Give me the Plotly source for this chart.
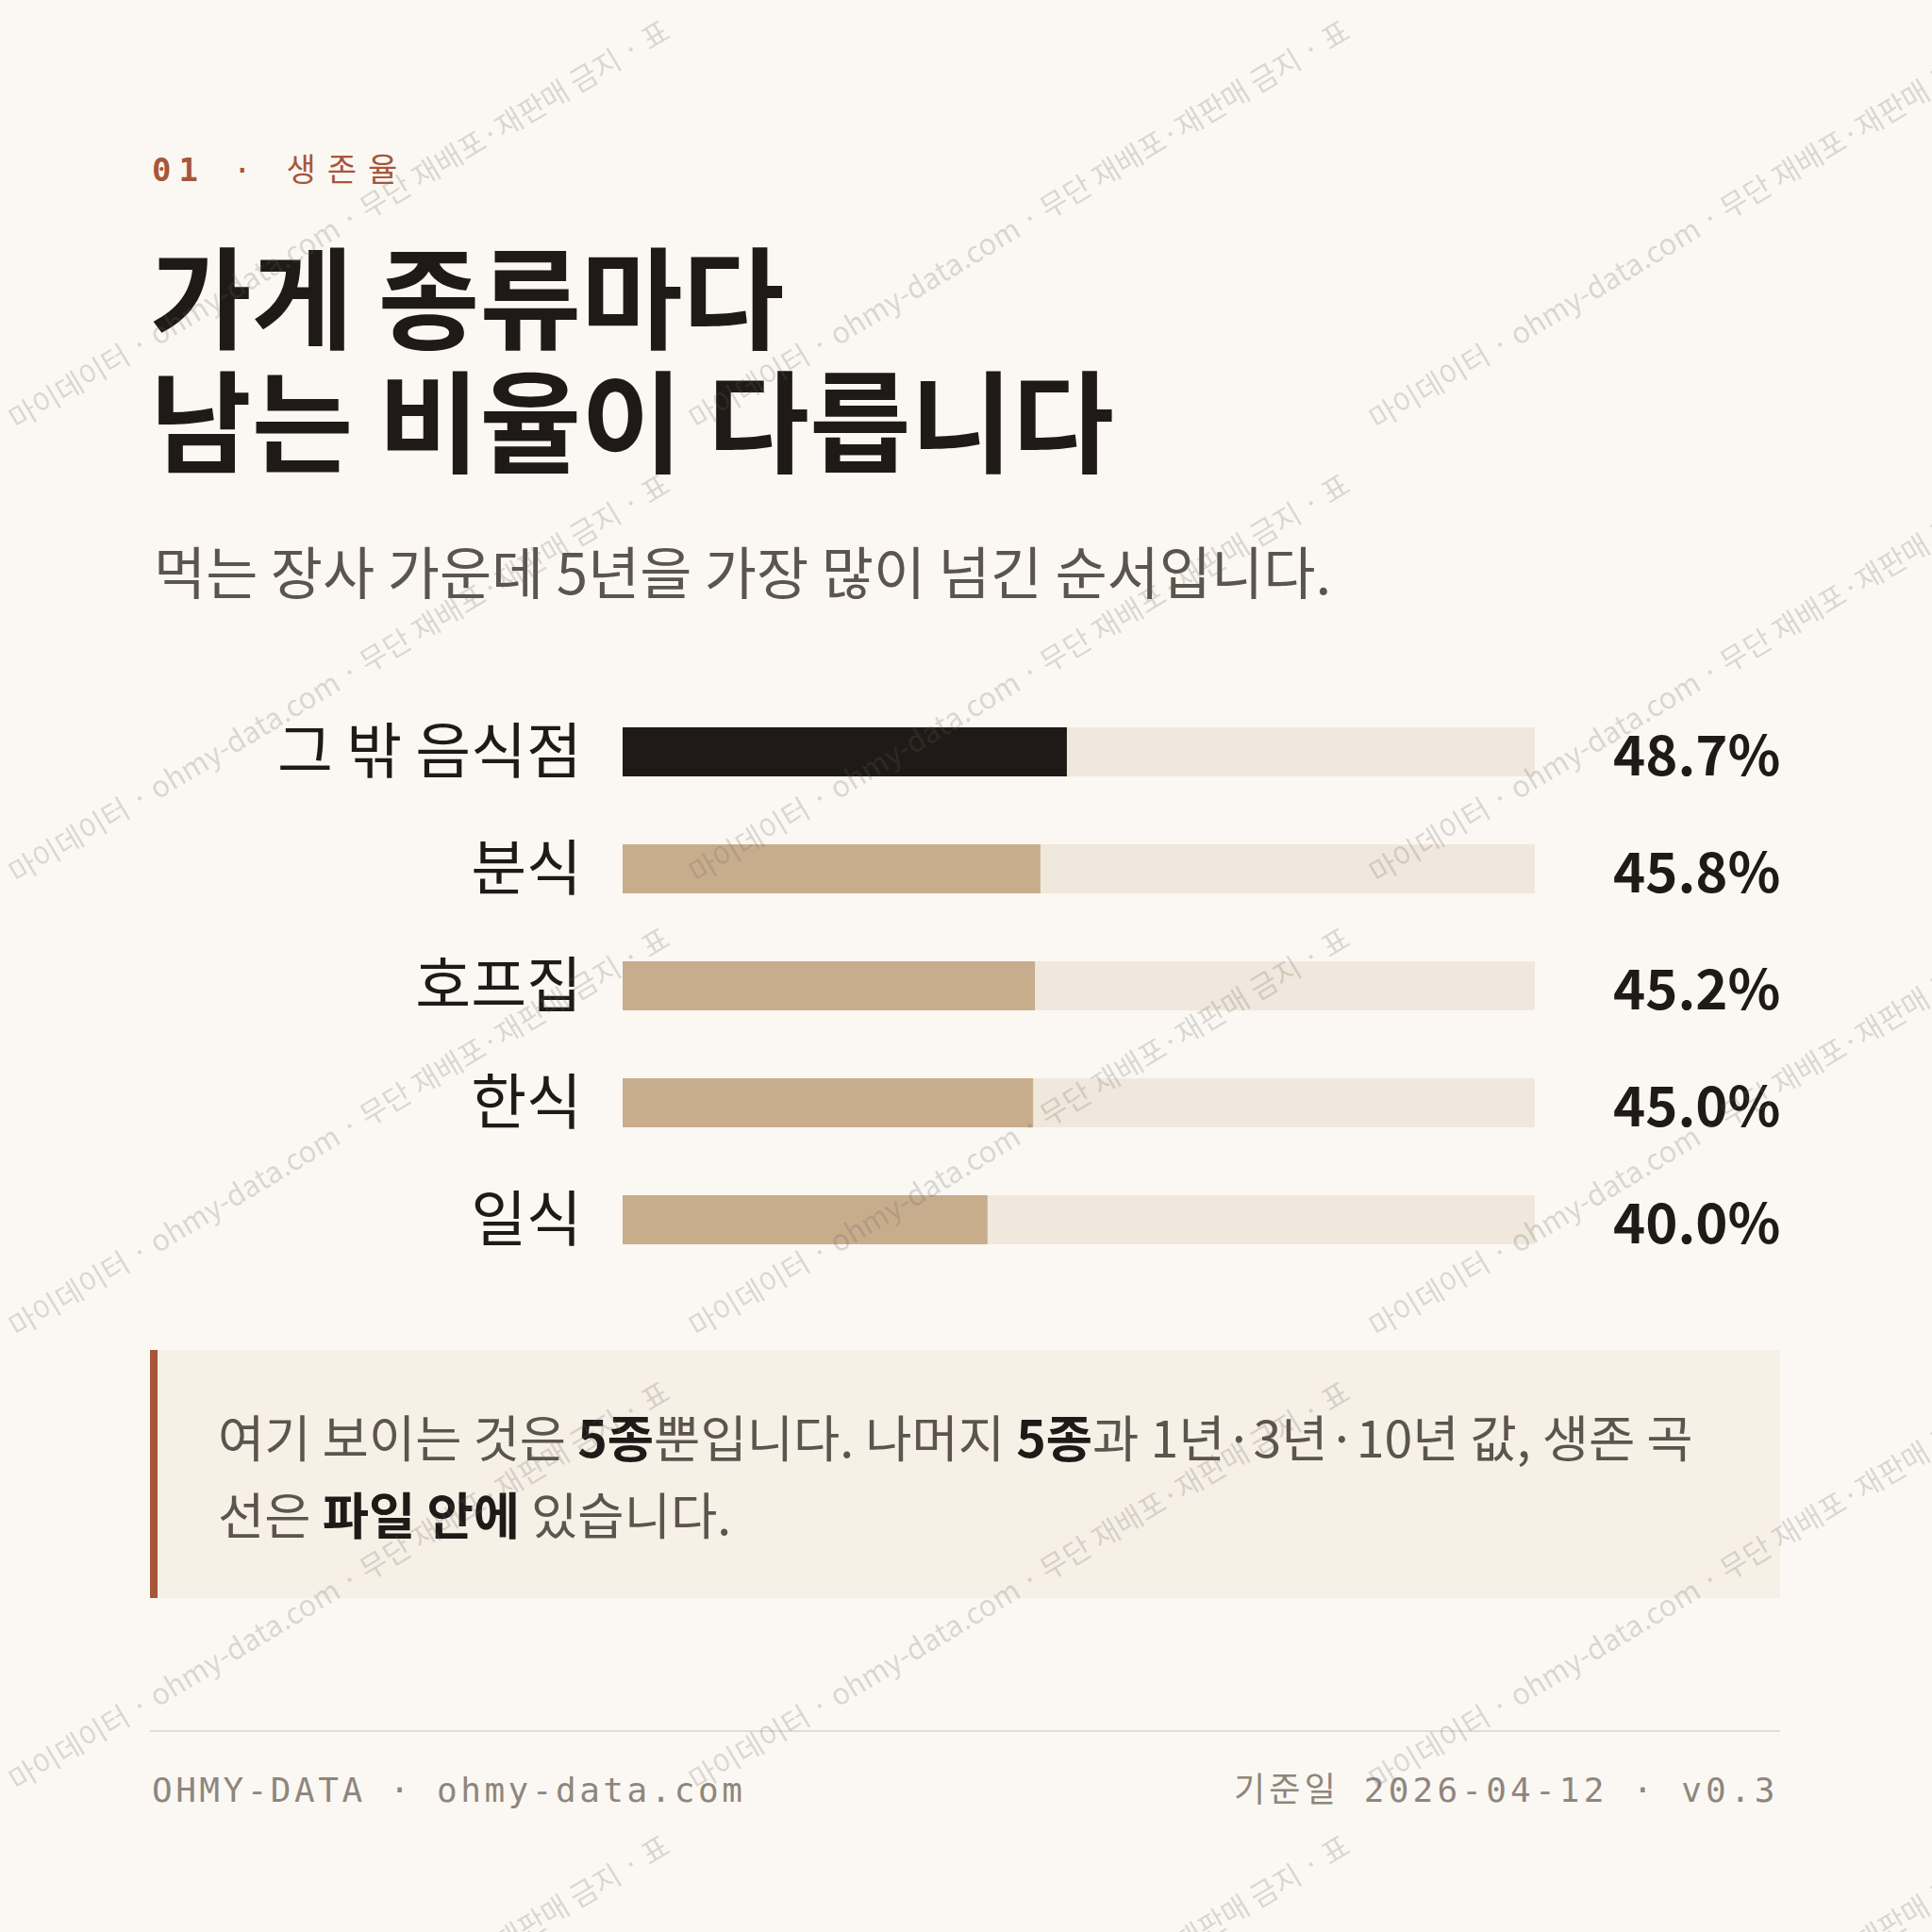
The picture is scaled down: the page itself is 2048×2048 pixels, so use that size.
import plotly.graph_objects as go

# Data
categories = ['그 밖 음식점', '분식', '호프집', '한식', '일식']
survival_5y = [48.7, 45.8, 45.2, 45.0, 40.0]
track_max = 100

kicker_num = '01'
kicker_label = '생존율'
title_lines = ['가게 종류마다', '남는 비율이 다릅니다']
subtitle = '먹는 장사 가운데 5년을 가장 많이 넘긴 순서입니다.'
note_lines = ['여기 보이는 것은 <b>5종</b>뿐입니다. 나머지 <b>5종</b>과 1년·3년·10년 값, 생존 곡',
              '선은 <b>파일 안에</b> 있습니다.']
footer_left = 'OHMY-DATA · ohmy-data.com'
footer_right = '기준일 2026-04-12 · v0.3'
watermark = '마이데이터 · ohmy-data.com · 무단 재배포·재판매 금지 · 표'

# colours
BG = '#FBF8F3'
INK = '#1F1A17'
GREY = '#5C554E'
RUST = '#A8563A'
TAN = '#C8AD8D'
TRACK = '#F0E8DC'
FOOT = '#8E867D'

W = H = 2048
def py(p):  # pixel from top -> paper y
    return 1 - p / H
def px(p):
    return p / W

KR = 'Noto Sans CJK KR, Noto Sans, sans-serif'
MONO = 'DejaVu Sans Mono, Noto Sans CJK KR, monospace'

def spaced(t, ls):
    return '<span style="letter-spacing:%spx">%s</span>' % (ls, t)

def dark_bold(t):
    return t.replace('<b>', '<span style="color:%s"><b>' % INK).replace('</b>', '</b></span>')

bar_colors = [INK] + [TAN] * (len(categories) - 1)

track = go.Bar(y=categories, x=[track_max] * len(categories), orientation='h',
               marker=dict(color=TRACK, line=dict(width=0)), width=0.42,
               hoverinfo='skip', showlegend=False)
fill = go.Bar(y=categories, x=survival_5y, orientation='h',
              marker=dict(color=bar_colors, line=dict(width=0)), width=0.42,
              showlegend=False)

layout = dict(
    width=W, height=H,
    margin=dict(l=0, r=0, t=0, b=0),
    paper_bgcolor=BG, plot_bgcolor='rgba(0,0,0,0)',
    barmode='overlay',
    xaxis=dict(domain=[px(660), px(1627)], range=[0, track_max], visible=False, fixedrange=True),
    yaxis=dict(domain=[py(1355), py(735)], categoryorder='array', categoryarray=categories,
               autorange='reversed', showgrid=False, zeroline=False, showline=False,
               ticks='', ticklabelstandoff=42,
               tickfont=dict(family=KR, size=64, color=INK)),
)

ann = []
ann.append(dict(text=spaced('<b>%s</b> · ' % kicker_num, 8) + spaced(kicker_label, 12),
                x=px(159), y=py(180), xanchor='left', yanchor='middle',
                font=dict(family=MONO, size=34, color=RUST)))
for i, t in enumerate(title_lines):
    ann.append(dict(text='<b>' + t + '</b>', x=px(157), y=py(310 + 131 * i), xanchor='left',
                    yanchor='middle', font=dict(family=KR, size=117, color=INK)))
ann.append(dict(text=subtitle, x=px(161), y=py(603), xanchor='left', yanchor='middle',
                font=dict(family=KR, size=60, color=GREY)))
for c, v in zip(categories, survival_5y):
    ann.append(dict(text='<b>%.1f%%</b>' % v, xref='paper', yref='y', x=px(1889), y=c,
                    xanchor='right', yanchor='middle',
                    font=dict(family=KR, size=58, color=INK)))
for i, t in enumerate(note_lines):
    ann.append(dict(text=dark_bold(t), x=px(229), y=py(1521 + 82 * i), xanchor='left',
                    yanchor='middle', font=dict(family=KR, size=53.6, color=GREY)))
ann.append(dict(text=spaced(footer_left, 3.5), x=px(159), y=py(1897), xanchor='left',
                yanchor='middle', font=dict(family=MONO, size=36, color=FOOT)))
ann.append(dict(text=spaced(footer_right, 4.2), x=px(1888), y=py(1897), xanchor='right',
                yanchor='middle', font=dict(family=MONO, size=36, color=FOOT)))

# tiled watermark
tw, th = 721, 481
for i in range(-1, 3):
    for j in range(0, 5):
        ann.append(dict(text=watermark, x=px(358 + tw * i), y=py(236 + th * j),
                        xanchor='center', yanchor='middle', textangle=-31,
                        font=dict(family=KR, size=31, color='rgba(100,95,90,0.22)')))

for a in ann:
    a.setdefault('xref', 'paper')
    a.setdefault('yref', 'paper')
    a['showarrow'] = False

shapes = [
    dict(type='rect', xref='paper', yref='paper', x0=px(159), x1=px(1887), y0=py(1694), y1=py(1431),
         fillcolor='#F7F0E7', line=dict(width=0), layer='below'),
    dict(type='rect', xref='paper', yref='paper', x0=px(159), x1=px(167), y0=py(1694), y1=py(1431),
         fillcolor=RUST, line=dict(width=0), layer='below'),
    dict(type='line', xref='paper', yref='paper', x0=px(159), x1=px(1887), y0=py(1835), y1=py(1835),
         line=dict(color='#E3DCD3', width=2)),
]

layout['annotations'] = ann
layout['shapes'] = shapes

fig = go.Figure(data=[track, fill], layout=layout)
fig.write_html('out.html', config=dict(displayModeBar=False),
               post_script="document.body.style.margin='0';document.body.style.background='%s';" % BG)
